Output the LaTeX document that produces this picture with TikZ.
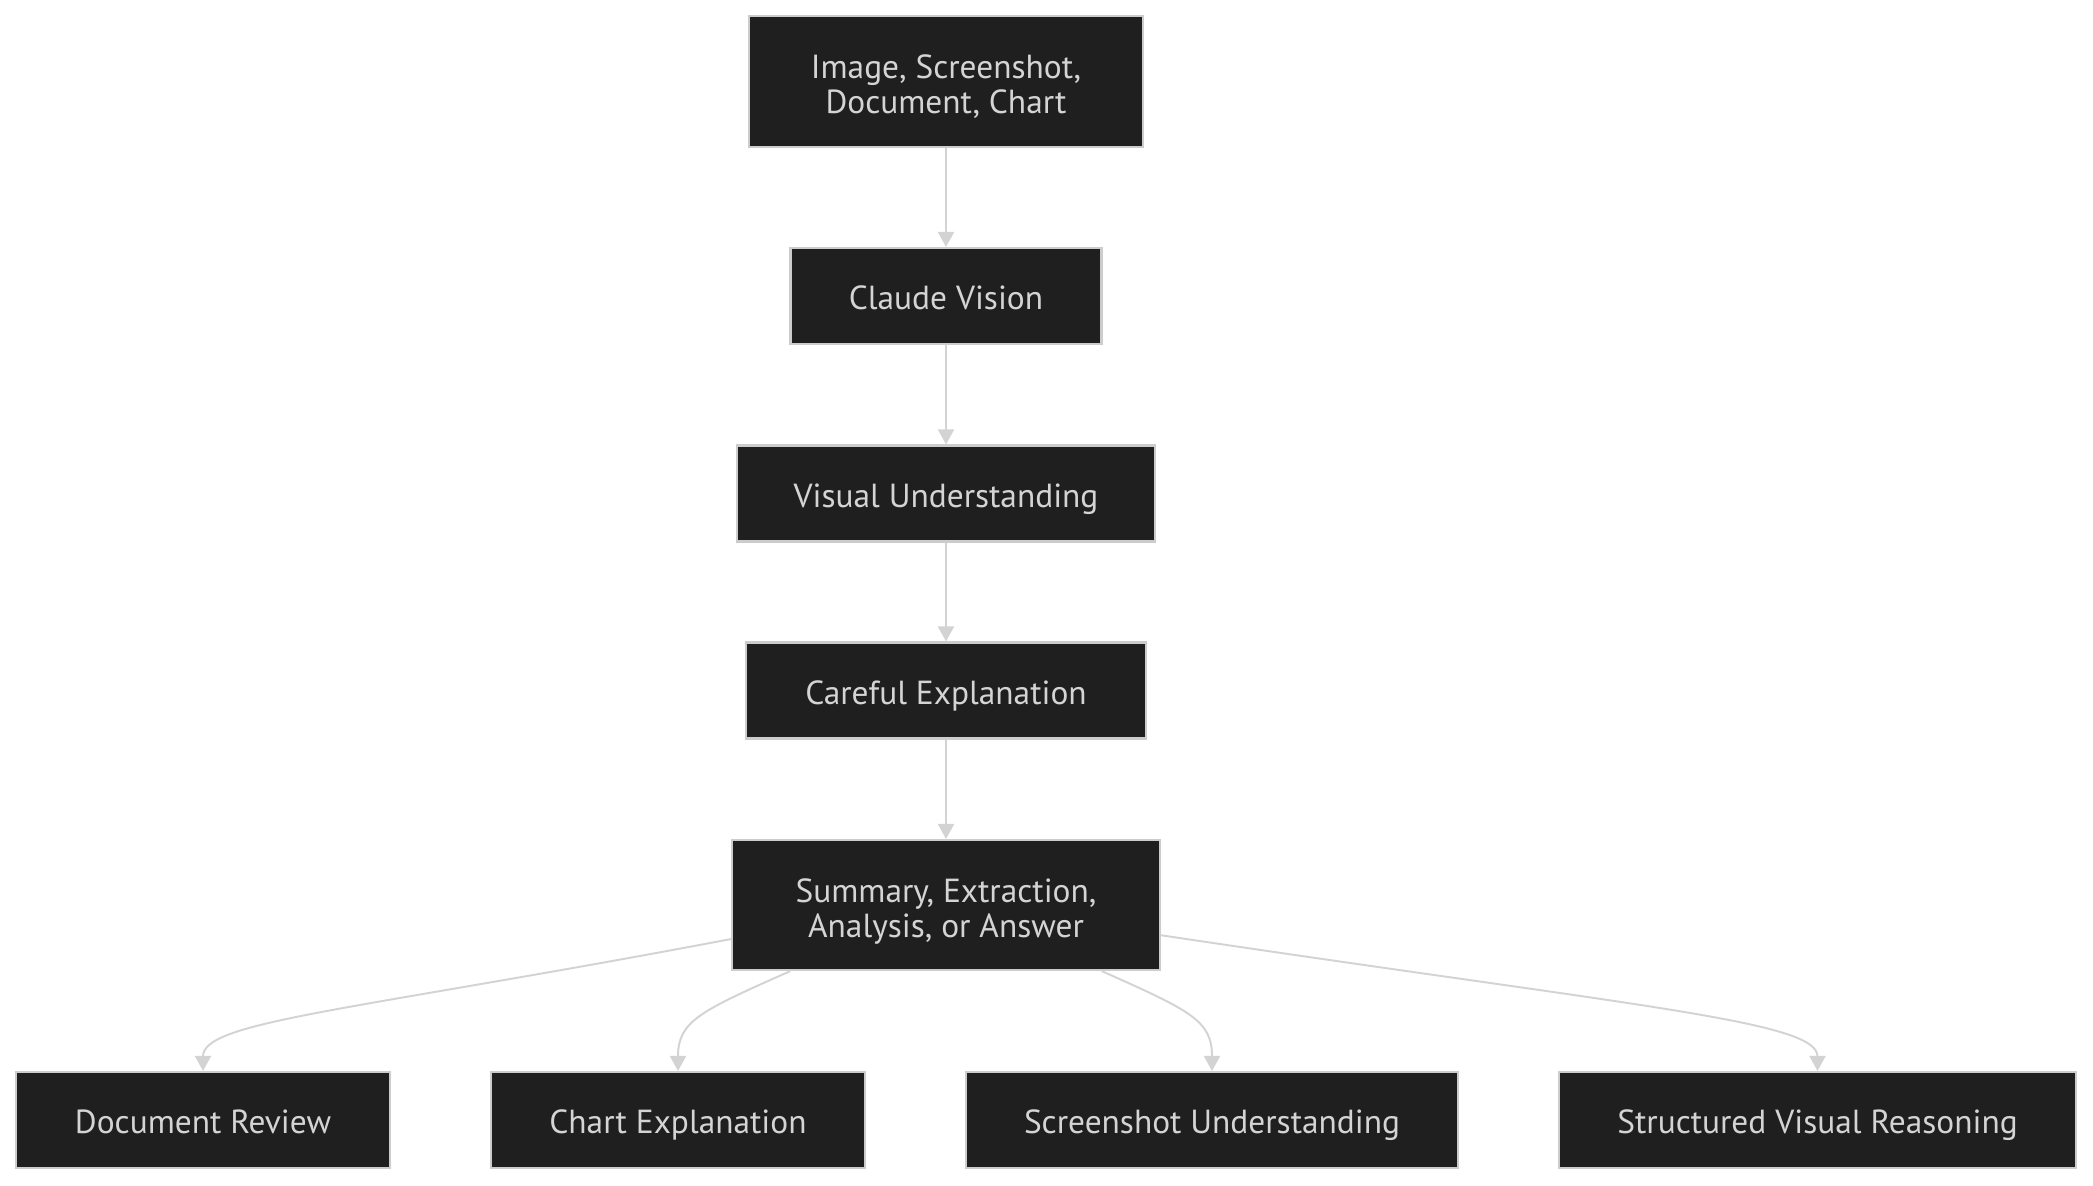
\documentclass[tikz,border=0pt]{standalone}
\usepackage{xcolor}
\usepackage{tikz}
\usepackage{fontspec}
\setmainfont{PT Sans}
\usetikzlibrary{arrows.meta,positioning}
\definecolor{boxfill}{HTML}{1F1F1F}
\definecolor{boxline}{HTML}{CCCCCC}
\definecolor{boxtext}{HTML}{D4D4D4}
\definecolor{edge}{HTML}{D3D3D3}
\newcommand{\linestrut}{\rule[-0.25em]{0pt}{1.33em}}
\newcommand{\toplinestrut}{\rule{0pt}{1.14em}}

\begin{document}
\begin{tikzpicture}[
  ent/.style={draw=boxline,line width=1.2pt,fill=boxfill,text=boxtext,
              align=center,inner sep=0pt,minimum height=1.92cm,
              font=\fontsize{19}{20}\selectfont,
              execute at begin node=\linestrut,
              execute at end node=\linestrut},
  arr/.style={draw=edge,line width=1.1pt,
              -{Triangle[width=0.32cm,length=0.3cm]}}
]
\useasboundingbox (0,0) rectangle (41.86,-23.7);
%% -- main column ------------------------------------------------------------
\node[ent,minimum width=7.88cm,minimum height=2.62cm] (img) at (18.92,-1.63)
  {\toplinestrut Image, Screenshot,\\Document, Chart};
\node[ent,minimum width=6.22cm] (cv) at (18.92,-5.92) {Claude Vision};
\node[ent,minimum width=8.36cm] (vu) at (18.92,-9.87) {Visual Understanding};
\node[ent,minimum width=8.0cm]  (ce) at (18.92,-13.81) {Careful Explanation};
\node[ent,minimum width=8.56cm,minimum height=2.6cm] (sum) at (18.92,-18.1)
  {\toplinestrut Summary, Extraction,\\Analysis, or Answer};

%% -- bottom row: uses ---------------------------------------------------------
\node[ent,minimum width=7.48cm]  (doc)   at (4.06,-22.4)  {Document Review};
\node[ent,minimum width=7.48cm]  (chart) at (13.56,-22.4) {Chart Explanation};
\node[ent,minimum width=9.84cm]  (shot)  at (24.24,-22.4) {Screenshot Understanding};
\node[ent,minimum width=10.34cm] (svr)   at (36.35,-22.4) {Structured Visual Reasoning};

%% -- straight down the column -----------------------------------------------
\draw[arr] (img) -- (cv);
\draw[arr] (cv)  -- (vu);
\draw[arr] (vu)  -- (ce);
\draw[arr] (ce)  -- (sum);

%% -- fan out to the bottom row ----------------------------------------------
\draw[arr] (sum.189) .. controls +(-7.6,-1.44) and +(0,1.0) .. (doc.north);
\draw[arr] (sum.203) .. controls +(-1.8,-0.8) and +(0,1.0) .. (chart.north);
\draw[arr] (sum.337) .. controls +(1.8,-0.8) and +(0,1.0) .. (shot.north);
\draw[arr] (sum.352) .. controls +(9.6,-1.44) and +(0,1.0) .. (svr.north);
\end{tikzpicture}
\end{document}
